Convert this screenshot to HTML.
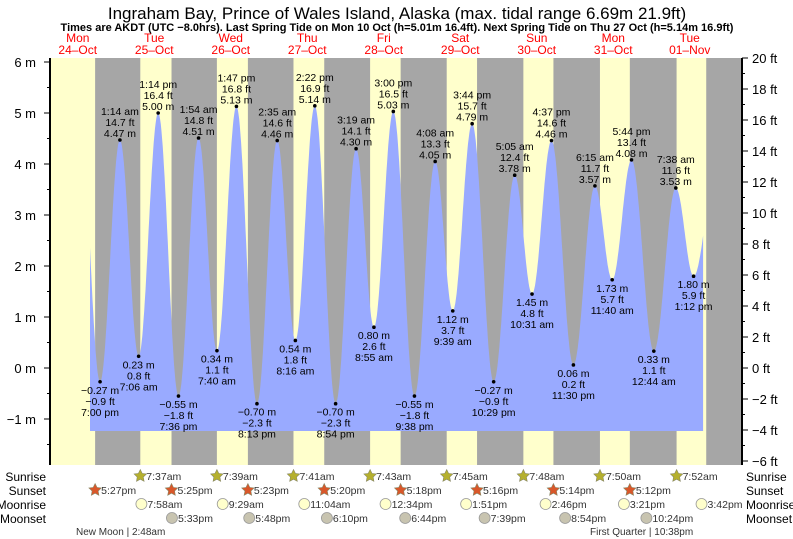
<!DOCTYPE html>
<html><head><meta charset="utf-8"><style>
body{margin:0;background:#fff}
svg{display:block;font-family:"Liberation Sans",sans-serif}
</style></head><body>
<svg id="c" width="793" height="539" viewBox="0 0 793 539">
<text x="397" y="19" text-anchor="middle" font-size="17">Ingraham Bay, Prince of Wales Island, Alaska (max. tidal range 6.69m 21.9ft)</text>
<text x="397" y="31" text-anchor="middle" font-size="11" font-weight="bold">Times are AKDT (UTC −8.0hrs). Last Spring Tide on Mon 10 Oct (h=5.01m 16.4ft). Next Spring Tide on Thu 27 Oct (h=5.14m 16.9ft)</text>
<g id="bands"></g><g id="tide"></g><g id="axes"></g><g id="labels"></g><g id="astro"></g>
</svg>
<script>
const NS='http://www.w3.org/2000/svg';
const days=['Mon','Tue','Wed','Thu','Fri','Sat','Sun','Mon','Tue'];
const dates=['24–Oct','25–Oct','26–Oct','27–Oct','28–Oct','29–Oct','30–Oct','31–Oct','01–Nov'];
const tideTimes=[12.67,19.0,25.23,31.1,37.23,43.6,49.9,55.67,61.78,68.22,74.58,80.27,86.37,92.9,99.32,104.92,111.0,117.63,124.13,129.65,135.73,142.48,149.08,154.52,160.62,167.5,174.25,179.67,185.73,192.73,199.63,205.2,212.5];
const tideHeights=[5.0,-0.27,4.47,0.23,5.00,-0.55,4.51,0.34,5.13,-0.70,4.46,0.54,5.14,-0.70,4.30,0.80,5.03,-0.55,4.05,1.12,4.79,-0.27,3.78,1.45,4.46,0.06,3.57,1.73,4.08,0.33,3.53,1.80,4.0];
const tideFt=['','−0.9','14.7','0.8','16.4','−1.8','14.8','1.1','16.8','−2.3','14.6','1.8','16.9','−2.3','14.1','2.6','16.5','−1.8','13.3','3.7','15.7','−0.9','12.4','4.8','14.6','0.2','11.7','5.7','13.4','1.1','11.6','5.9',''];
const tideLbl=['','7:00 pm','1:14 am','7:06 am','1:14 pm','7:36 pm','1:54 am','7:40 am','1:47 pm','8:13 pm','2:35 am','8:16 am','2:22 pm','8:54 pm','3:19 am','8:55 am','3:00 pm','9:38 pm','4:08 am','9:39 am','3:44 pm','10:29 pm','5:05 am','10:31 am','4:37 pm','11:30 pm','6:15 am','11:40 am','5:44 pm','12:44 am','7:38 am','1:12 pm',''];
const sunrise=[31.62,55.65,79.68,103.72,127.75,151.8,175.83,199.87];
const sunriseLbl=['7:37am','7:39am','7:41am','7:43am','7:45am','7:48am','7:50am','7:52am'];
const sunset=[17.45,41.42,65.38,89.33,113.3,137.27,161.23,185.2,209.17];
const sunsetLbl=['5:27pm','5:25pm','5:23pm','5:20pm','5:18pm','5:16pm','5:14pm','5:12pm'];
const moonrise=[31.97,57.48,83.07,108.57,133.85,158.77,183.35,207.7];
const moonriseLbl=['7:58am','9:29am','11:04am','12:34pm','1:51pm','2:46pm','3:21pm','3:42pm'];
const moonset=[41.55,65.8,90.17,114.73,139.65,164.9,190.4];
const moonsetLbl=['5:33pm','5:48pm','6:10pm','6:44pm','7:39pm','8:54pm','10:24pm'];
const X=t=>39.5+t*76.5/24, Y=m=>368-51*m;
const T0=15.84,T1=208.2,PL=50,PR=742,PT=58,PB=465;
function el(tag,a,p,txt){const e=document.createElementNS(NS,tag);for(const k in a)e.setAttribute(k,a[k]);if(txt!==undefined)e.textContent=txt;p.appendChild(e);return e;}
const bands=document.getElementById('bands'),tide=document.getElementById('tide'),axes=document.getElementById('axes'),labels=document.getElementById('labels'),astro=document.getElementById('astro'),svg=document.getElementById('c');
let b=el('rect',{x:PL,y:PT,width:PR-PL,height:PB-PT,fill:'#ffffcc'},bands);


for(let i=0;i<sunset.length;i++){const x0=X(sunset[i]),x1=i<sunrise.length?X(sunrise[i]):PR;
 const r=el('rect',{x:x0,y:PT,width:Math.min(x1,PR)-x0,height:PB-PT,fill:'#a6a6a6'},bands);
 
 }
for(let i=0;i<days.length;i++){const x=X(i*24+12);
 const a=el('text',{x:x,y:42,'text-anchor':'middle','font-size':12,fill:'#ff0000'},svg,days[i]);
 
 
 const d=el('text',{x:x,y:54,'text-anchor':'middle','font-size':12,fill:'#ff0000'},svg,dates[i]);
 
 }
function h(t){for(let i=0;i<tideTimes.length-1;i++){if(t>=tideTimes[i]&&t<=tideTimes[i+1]){const f=(t-tideTimes[i])/(tideTimes[i+1]-tideTimes[i]);return tideHeights[i]+(tideHeights[i+1]-tideHeights[i])*(1-Math.cos(Math.PI*f))/2;}}return 0;}
let pts=[[X(T0),431]];
for(let t=T0;t<=T1;t+=0.2)pts.push([X(t),Y(h(t))]);
pts.push([X(T1),Y(h(T1))],[X(T1),431]);
const poly=el('polygon',{points:pts.map(p=>p[0].toFixed(1)+','+p[1].toFixed(1)).join(' '),fill:'#99aaff'},tide);


for(let i=1;i<tideTimes.length-1;i++){const x=X(tideTimes[i]),y=Y(tideHeights[i]),hi=tideHeights[i]>tideHeights[i-1];
 const dot=el('circle',{cx:x,cy:y,r:1.8,fill:'#000'},labels);
 
 
 const m=tideHeights[i].toFixed(2).replace('-','−')+' m',f=tideFt[i]+' ft';
 const lines=hi?[[tideLbl[i],y-25],[f,y-14],[m,y-3]]:[[m,y+12],[f,y+23],[tideLbl[i],y+34]];
 for(const [s,yy] of lines){const t=el('text',{x:x,y:yy,'text-anchor':'middle','font-size':10.5,fill:'#000'},labels,s);
  
  }}
let ax=el('line',{x1:PL,y1:PT,x2:PL,y2:PB,stroke:'#000','stroke-width':2},axes);


ax=el('line',{x1:PR,y1:PT,x2:PR,y2:PB,stroke:'#000','stroke-width':2},axes);


const mTicks=[-1,0,1,2,3,4,5,6];
for(let v=-1.5;v<=6;v+=0.5){const y=Y(v);el('line',{x1:PL-(Number.isInteger(v)?6:3),y1:y,x2:PL,y2:y,stroke:'#000'},axes);}
for(const v of mTicks){const t=el('text',{x:36,y:Y(v)+5,'text-anchor':'end','font-size':13},axes,(v<0?'−'+(-v):v)+' m');
 
 }
const ftTicks=[-6,-4,-2,0,2,4,6,8,10,12,14,16,18,20];
for(let v=-6;v<=20;v++){const y=368-v*15.5;el('line',{x1:PR,y1:y,x2:PR+(v%2==0?6:3),y2:y,stroke:'#000'},axes);}
for(const v of ftTicks){const t=el('text',{x:752,y:368-v*15.5+5,'font-size':13},axes,(v<0?'−'+(-v):v)+' ft');
 
 }
const rows=[['Sunrise',476],['Sunset',490],['Moonrise',504],['Moonset',518]];
for(const [n,y] of rows){let t=el('text',{x:46,y:y+5,'text-anchor':'end','font-size':12,fill:'#000'},astro,n);
 
 
 t=el('text',{x:746,y:y+5,'font-size':12},astro,n);
 
 }
function star(x,y,fill){let p=[];for(let k=0;k<10;k++){const r=k%2?3.2:6.5,a=-Math.PI/2+k*Math.PI/5;p.push((x+r*Math.cos(a)).toFixed(1)+','+(y+r*Math.sin(a)).toFixed(1));}return el('polygon',{points:p.join(' '),fill:fill,stroke:'#886','stroke-width':0.6},astro);}
function row(times,lbls,y,kind){for(let i=0;i<lbls.length;i++){const x=X(times[i]);let ic;
 if(kind=='sr')ic=star(x,y,'#b5b02e');else if(kind=='ss')ic=star(x,y,'#d9572a');
 else ic=el('circle',{cx:x,cy:y,r:5.5,fill:kind=='mr'?'#ffffcc':'#c8c4b0',stroke:'#999','stroke-width':0.8},astro);
 
 
 const t=el('text',{x:x+6,y:y+4,'font-size':10.5,fill:'#333'},astro,lbls[i]);
 
 }}
row(sunrise,sunriseLbl,476,'sr');row(sunset,sunsetLbl,490,'ss');row(moonrise,moonriseLbl,504,'mr');row(moonset,moonsetLbl,518,'ms');
let ph=el('text',{x:76,y:535,'font-size':10,fill:'#333'},astro,'New Moon | 2:48am');


ph=el('text',{x:590,y:535,'font-size':10,fill:'#333'},astro,'First Quarter | 10:38pm');


</script>
</body></html>
